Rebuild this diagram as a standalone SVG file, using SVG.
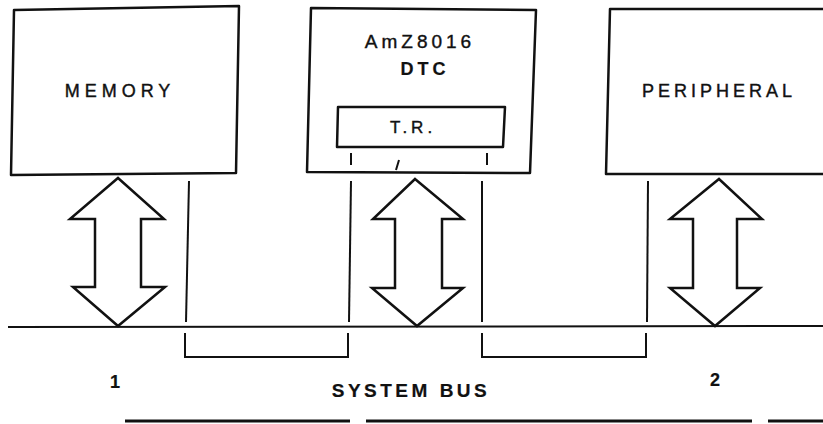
<svg xmlns="http://www.w3.org/2000/svg" width="823" height="424" viewBox="0 0 823 424">
<style>
.box{fill:#fff;stroke:#111;stroke-width:2.5;stroke-linejoin:round}
.ln{fill:none;stroke:#111;stroke-width:2}
.arr{fill:#fff;stroke:#111;stroke-width:2.5;stroke-linejoin:miter}
.t{font-family:"Liberation Sans",Arial,sans-serif;fill:#111;stroke:#111;stroke-width:0.4;text-anchor:middle}
.b{font-weight:bold;stroke-width:0.2}
</style>
<rect width="823" height="424" fill="#fff"/>
<g id="memory">
<path class="box" d="M14,10 L239,6 L236,173 L11,175 Z"/>
<text class="t" x="120" y="97" font-size="18" letter-spacing="5">MEMORY</text>
</g>
<g id="dtc">
<path class="box" d="M311,8 L536,10 L530,173 L307,172 Z"/>
<text class="t" x="420" y="48" font-size="19" letter-spacing="4">AmZ8016</text>
<text class="t b" x="425" y="75" font-size="18" letter-spacing="4">DTC</text>
</g>
<g id="tr">
<path class="box" d="M338,107 L505,107 L503,147 L337,147 Z"/>
<text class="t" x="413" y="133" font-size="17" letter-spacing="4">T.R.</text>
</g>
<g id="peripheral">
<path class="box" d="M823,9 L610,9 L606,174 L823,174"/>
<text class="t" x="719" y="97" font-size="18" letter-spacing="4">PERIPHERAL</text>
</g>
<g id="connectors">
<path class="ln" d="M8,327 L823,326"/>
<path class="arr" d="M118,178 L164,219 L141,219 L141,287 L165,287 L118,326 L73,287 L95,287 L95,219 L70,219 Z"/>
<path class="arr" d="M415,179 L463,219 L442,219 L442,288 L463,288 L417,326 L372,288 L395,288 L395,219 L373,219 Z"/>
<path class="arr" d="M719,179 L762,219 L737,219 L737,288 L760,288 L715,326 L670,288 L693,288 L693,219 L670,219 Z"/>
<path class="ln" d="M189,181 L186,322"/>
<path class="ln" d="M351,181 L349,322"/>
<path class="ln" d="M482,181 L482,322"/>
<path class="ln" d="M648,181 L647,322"/>
<path class="ln" d="M351,153 L351,165 M487,153 L487,165 M399,160 L396,170"/>
<path class="ln" d="M185,333 L185,357 L348,357 L348,333"/>
<path class="ln" d="M482,333 L482,357 L646,357 L646,333"/>
</g>
<g id="labels">
<text class="t b" x="115" y="388" font-size="18">1</text>
<text class="t b" x="715" y="386" font-size="18">2</text>
<text class="t b" x="411" y="397" font-size="19" letter-spacing="3.5">SYSTEM BUS</text>
</g>
<path d="M125,421 L350,421 M366,421 L752,421 M768,421 L823,421" stroke="#111" stroke-width="3" fill="none"/>
</svg>
